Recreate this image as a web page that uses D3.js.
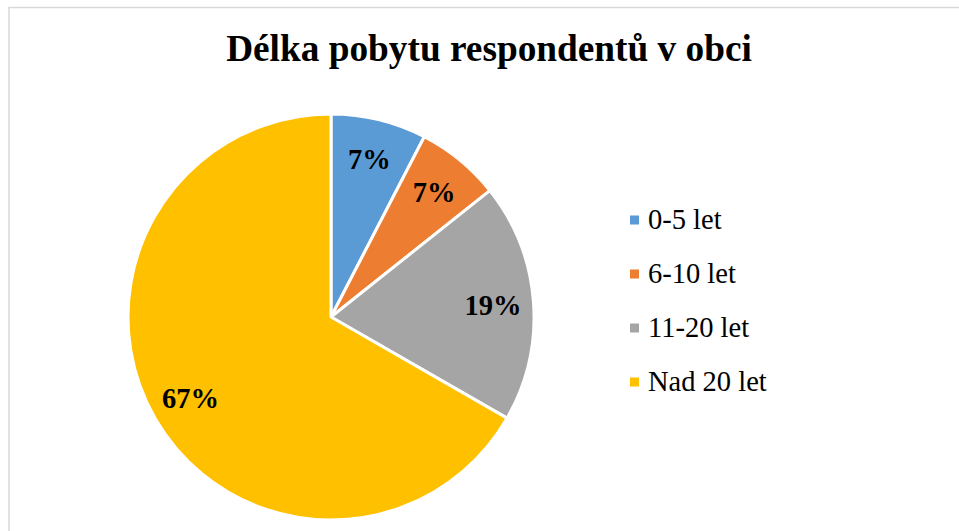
<!DOCTYPE html>
<html>
<head>
<meta charset="utf-8">
<script src="https://cdn.jsdelivr.net/npm/d3@7"></script>
<style>
  body { margin: 0; background: #fff; }
  text { font-family: "Liberation Serif", "Times New Roman", serif; }
</style>
</head>
<body>
<script>
// data
const categories = ["0-5 let", "6-10 let", "11-20 let", "Nad 20 let"];
const values = [7.6, 6.7, 19.0, 66.7];
const labels = ["7%", "7%", "19%", "67%"];
const colors = ["#5b9bd5", "#ed7d31", "#a5a5a5", "#ffc000"];

const width = 959, height = 531;
const center = {x: 331, y: 317};
const radius = 203;

const svg = d3.select("body").append("svg")
  .attr("width", width)
  .attr("height", height);

// chart frame
svg.append("rect")
  .attr("x", 9)
  .attr("y", 7.5)
  .attr("width", 960)
  .attr("height", 540)
  .attr("fill", "none")
  .attr("stroke", "#d9d9d9")
  .attr("stroke-width", 1.5);

// title
svg.append("text")
  .attr("x", 489)
  .attr("y", 61)
  .attr("text-anchor", "middle")
  .style("font-size", "37.3px")
  .style("font-weight", "bold")
  .text("Délka pobytu respondentů v obci");

const pie = d3.pie().sort(null).value(d => d);
const arcs = pie(values);

const arc = d3.arc().innerRadius(0).outerRadius(radius);
const labelArc = d3.arc().innerRadius(radius * 0.8).outerRadius(radius * 0.8);

const g = svg.append("g")
  .attr("transform", `translate(${center.x},${center.y})`);

g.selectAll("path")
  .data(arcs)
  .enter().append("path")
  .attr("d", arc)
  .attr("fill", (d, i) => colors[i])
  .attr("stroke", "#fff")
  .attr("stroke-width", 3)
  .attr("stroke-linejoin", "round");

g.selectAll(".lbl")
  .data(arcs)
  .enter().append("text")
  .attr("class", "lbl")
  .attr("transform", d => `translate(${labelArc.centroid(d)})`)
  .attr("text-anchor", "middle")
  .attr("dy", "0.35em")
  .style("font-size", "28.5px")
  .style("font-weight", "bold")
  .text((d, i) => labels[i]);

// legend
const legend = svg.append("g")
  .attr("transform", "translate(630,220)");

const item = legend.selectAll("g")
  .data(categories)
  .enter().append("g")
  .attr("transform", (d, i) => `translate(0,${i * 54})`);

item.append("rect")
  .attr("x", 0)
  .attr("y", -4.5)
  .attr("width", 9)
  .attr("height", 9)
  .attr("fill", (d, i) => colors[i]);

item.append("text")
  .attr("x", 18)
  .attr("dy", "0.3em")
  .style("font-size", "28.5px")
  .text(d => d);
</script>
</body>
</html>
